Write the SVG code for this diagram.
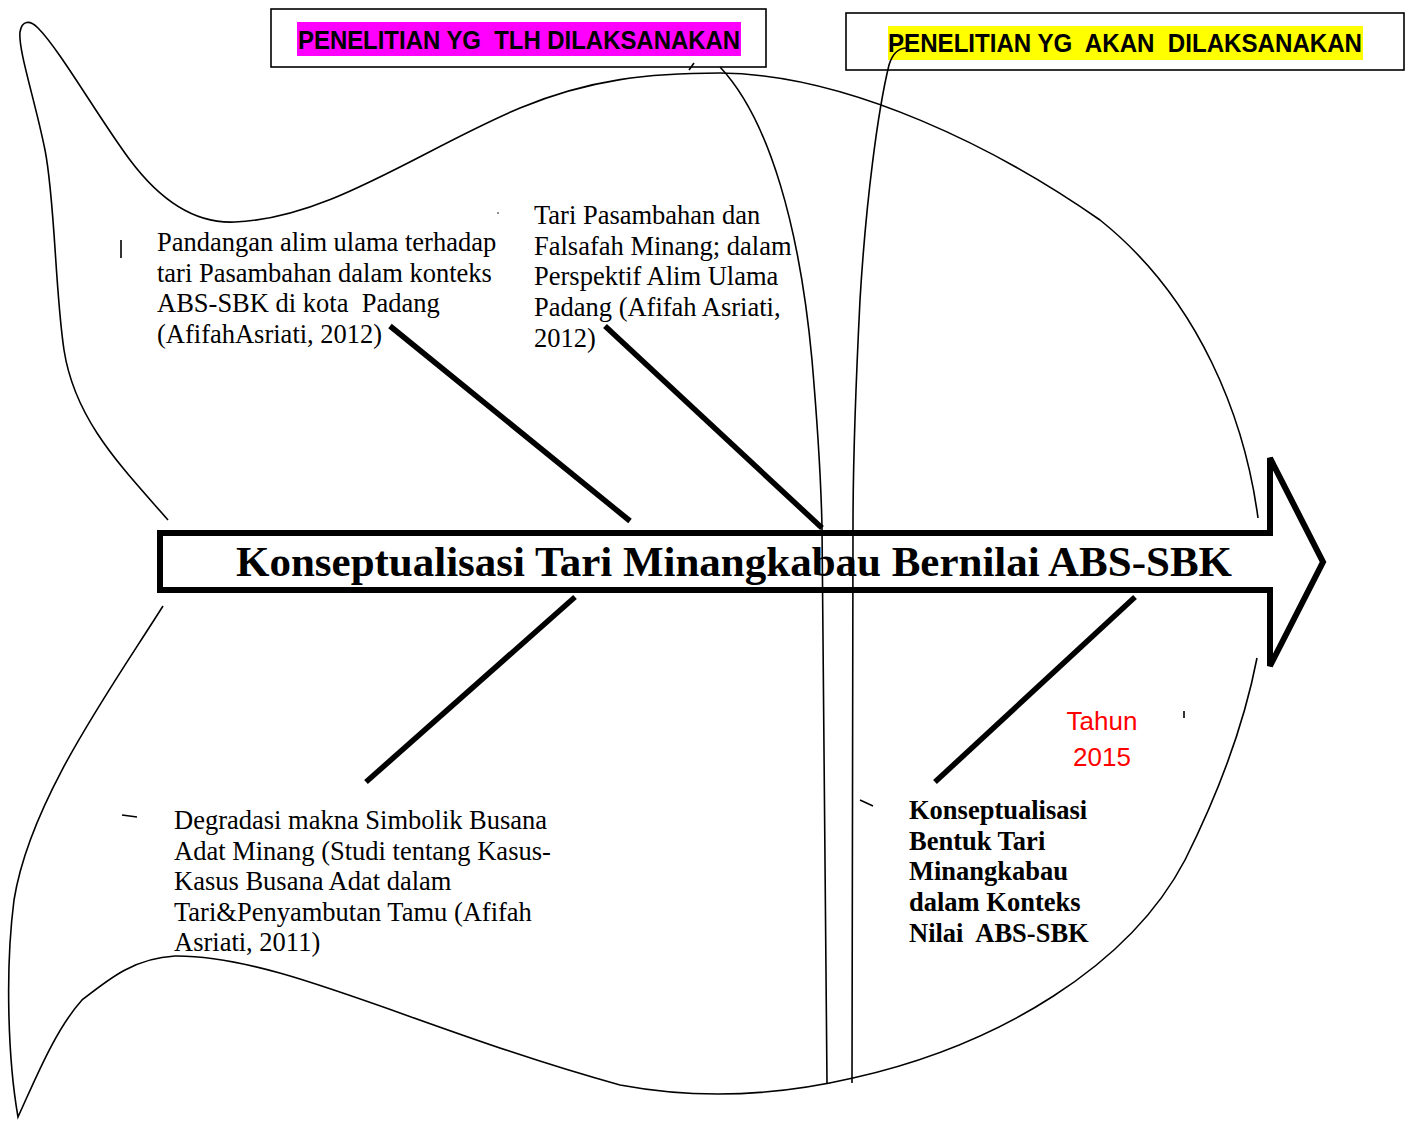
<svg xmlns="http://www.w3.org/2000/svg" width="1411" height="1121" viewBox="0 0 1411 1121">
<style>
.ol{fill:none;stroke:#000;stroke-width:1.6}
.br{fill:none;stroke:#000;stroke-width:5.5;stroke-linecap:butt}
.t{font-family:"Liberation Serif","Times New Roman",serif;font-size:26.5px;fill:#000}
.tb{font-family:"Liberation Serif","Times New Roman",serif;font-size:26.5px;font-weight:bold;fill:#000}
.hd{font-family:"Liberation Sans",Arial,sans-serif;font-size:25px;font-weight:bold;fill:#000;white-space:pre}
.box{fill:#fff;stroke:#000;stroke-width:1.6}
</style>
<rect width="1411" height="1121" fill="#fff"/>
<g id="fish-outline">
<path class="ol" d="M168,520 C120,465 75,420 64,350 C55,290 55,200 45,150 C35,100 18,50 20,32 C22,20 30,20 38,28 C60,50 100,120 130,160 C160,200 195,224 235,222 C330,218 420,150 520,108 C590,79 650,73 720,73 C850,74 1000,150 1100,220 C1200,300 1245,420 1258,518"/>
<path class="ol" d="M163,606 C110,690 30,800 14,900 C5,970 8,1060 18,1117 C35,1080 55,1030 82,1000 C110,978 135,958 175,956 C280,955 420,1030 620,1085 C700,1100 780,1095 853,1078 C1000,1045 1130,965 1185,860 C1220,790 1245,720 1257,658"/>
</g>
<g id="header-done">
<rect class="box" x="271" y="9" width="495" height="58"/>
<rect x="297" y="22" width="444" height="34" fill="#ff00ff"/>
<text class="hd" x="298" y="49" textLength="442" lengthAdjust="spacingAndGlyphs">PENELITIAN YG  TLH DILAKSANAKAN</text>
</g>
<g id="header-plan">
<rect class="box" x="846" y="13" width="558" height="57"/>
<rect x="888" y="26" width="475" height="34" fill="#ffff00"/>
<text class="hd" x="888" y="52" textLength="474" lengthAdjust="spacingAndGlyphs">PENELITIAN YG  AKAN  DILAKSANAKAN</text>
</g>
<g id="spine">
<path d="M160,533 L1270,533 L1270,458 L1323,562 L1270,666 L1270,590 L160,590 Z" fill="#fff" stroke="#000" stroke-width="6" stroke-linejoin="miter"/>
<text x="236" y="576" font-family="'Liberation Serif','Times New Roman',serif" font-size="42.5" font-weight="bold" textLength="996" lengthAdjust="spacingAndGlyphs">Konseptualisasi Tari Minangkabau Bernilai ABS-SBK</text>
</g>
<g id="connectors">
<line class="br" x1="390" y1="326" x2="630" y2="521"/>
<line class="br" x1="605" y1="326" x2="822" y2="528"/>
<line class="br" x1="575" y1="597" x2="366" y2="782"/>
<line class="br" x1="1135" y1="597" x2="935" y2="782"/>
<path class="ol" d="M720,67 C770,120 800,230 812,360 C818,430 821,480 822,527 L827,1083"/>
<path class="ol" d="M907,48 C898,48 892,55 889,65 C878,110 866,200 860,300 C855,400 853,470 853,527 L852,1083"/>
</g>
<g id="node-1">
<text class="t" x="157" y="251">Pandangan alim ulama terhadap</text>
<text class="t" x="157" y="282">tari Pasambahan dalam konteks</text>
<text class="t" x="157" y="312" style="white-space:pre">ABS-SBK di kota  Padang</text>
<text class="t" x="157" y="343">(AfifahAsriati, 2012)</text>
</g>
<g id="node-2">
<text class="t" x="534" y="224">Tari Pasambahan dan</text>
<text class="t" x="534" y="255">Falsafah Minang; dalam</text>
<text class="t" x="534" y="285">Perspektif Alim Ulama</text>
<text class="t" x="534" y="316">Padang (Afifah Asriati,</text>
<text class="t" x="534" y="347">2012)</text>
</g>
<g id="node-3">
<text class="t" x="174" y="829">Degradasi makna Simbolik Busana</text>
<text class="t" x="174" y="860">Adat Minang (Studi tentang Kasus-</text>
<text class="t" x="174" y="890">Kasus Busana Adat dalam</text>
<text class="t" x="174" y="921">Tari&amp;Penyambutan Tamu (Afifah</text>
<text class="t" x="174" y="951">Asriati, 2011)</text>
</g>
<g id="node-4">
<text class="tb" x="909" y="819">Konseptualisasi</text>
<text class="tb" x="909" y="850">Bentuk Tari</text>
<text class="tb" x="909" y="880">Minangkabau</text>
<text class="tb" x="909" y="911">dalam Konteks</text>
<text class="tb" x="909" y="942" style="white-space:pre">Nilai  ABS-SBK</text>
</g>
<g id="year">
<text x="1102" y="730" font-family="'Liberation Sans',Arial,sans-serif" font-size="26" fill="#ff0000" text-anchor="middle">Tahun</text>
<text x="1102" y="766" font-family="'Liberation Sans',Arial,sans-serif" font-size="26" fill="#ff0000" text-anchor="middle">2015</text>
</g>
<g id="marks" fill="none" stroke="#000" stroke-width="1.6">
<line x1="121" y1="240" x2="121" y2="258"/>
<line x1="122" y1="815" x2="137" y2="817"/>
<line x1="860" y1="800" x2="873" y2="806"/>
<line x1="1184" y1="711" x2="1184" y2="718"/>
<line x1="689" y1="70" x2="694" y2="63"/>
<circle cx="498" cy="213" r="0.8" fill="#000" stroke="none"/>
</g>
</svg>
